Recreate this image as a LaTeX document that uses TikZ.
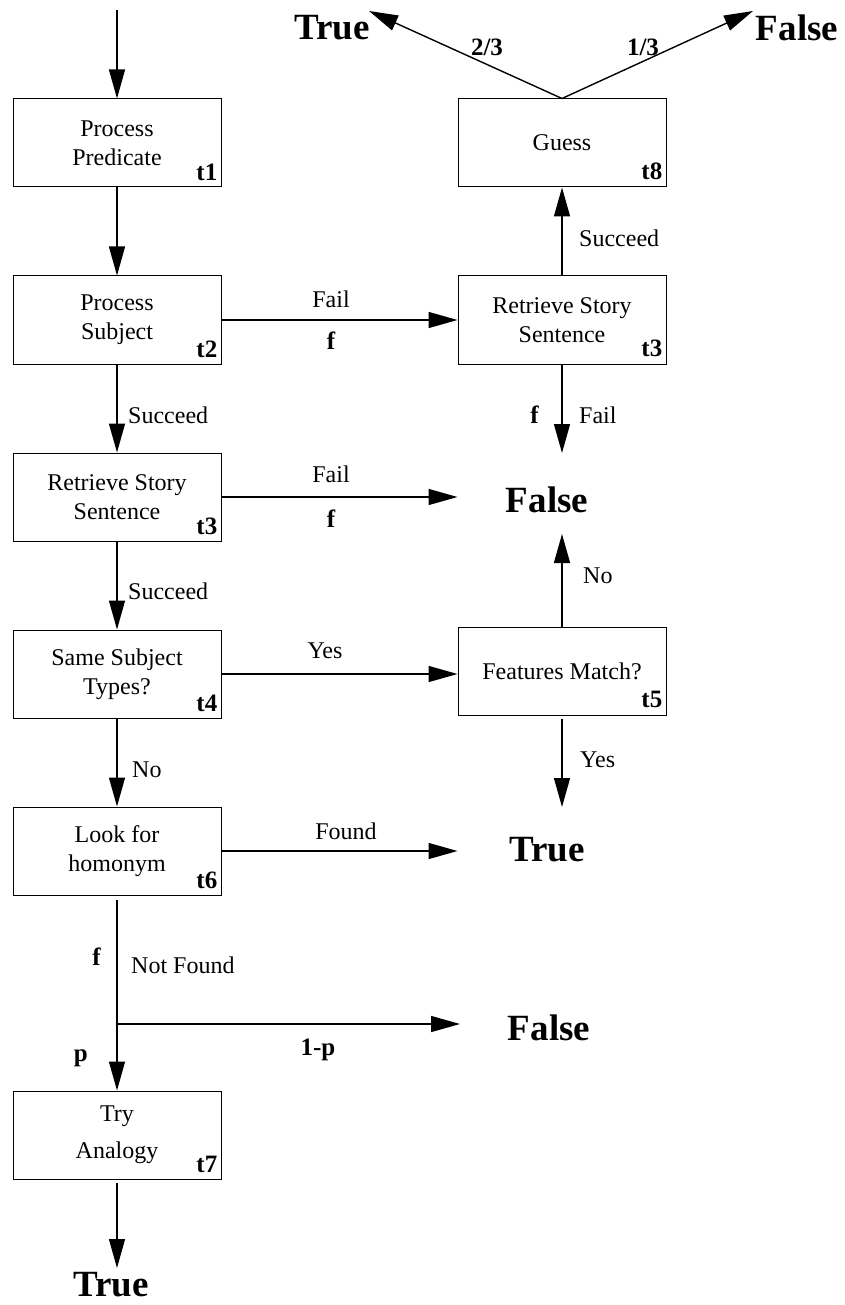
\documentclass[tikz,border=0pt]{standalone}
\usepackage{fontspec}
\setmainfont{Liberation Serif}
\usetikzlibrary{arrows.meta,calc}
\begin{document}
\begin{tikzpicture}[x=1pt,y=-1pt,
  box/.style={draw, line width=1pt, minimum width=208pt, minimum height=88pt, inner sep=0pt,
              font=\fontsize{24}{29}\selectfont, align=center},
  lbl/.style={font=\fontsize{24}{28}\selectfont, inner sep=0pt},
  blbl/.style={font=\fontsize{25}{28}\selectfont\bfseries, inner sep=0pt},
  tag/.style={font=\fontsize{25}{28}\selectfont\bfseries, inner sep=0pt, anchor=base east},
  big/.style={font=\fontsize{37}{40}\selectfont\bfseries, inner sep=0pt},
  arr/.style={line width=1.4pt, -{Triangle[length=29pt,width=16pt]}},
  ln/.style={line width=1.4pt}
]
\useasboundingbox (0,0) rectangle (844,1305);

% boxes
\node[box] (t1) at (117,143) {Process\\Predicate};
\node[box] (t2) at (117,320) {Process\\Subject};
\node[box] (t3L) at (117,497) {Retrieve Story\\Sentence};
\node[box] (t4) at (117,674) {Same Subject\\Types?};
\node[box] (t6) at (117,851) {Look for\\homonym};
\node[box] (t7) at (117,1135) {Try\\[8pt]Analogy};
\node[box] (t8) at (562,143) {Guess};
\node[box] (t3R) at (562,320) {Retrieve Story\\Sentence};
\node[box] (t5) at (562,671) {Features Match?};

% tags
\node[tag] at ([xshift=-4pt,yshift=7pt]t1.south east) {t1};
\node[tag] at ([xshift=-4pt,yshift=7pt]t2.south east) {t2};
\node[tag] at ([xshift=-4pt,yshift=7pt]t3L.south east) {t3};
\node[tag] at ([xshift=-4pt,yshift=7pt]t4.south east) {t4};
\node[tag] at ([xshift=-4pt,yshift=7pt]t6.south east) {t6};
\node[tag] at ([xshift=-4pt,yshift=7pt]t7.south east) {t7};
\node[tag] at ([xshift=-4pt,yshift=8pt]t8.south east) {t8};
\node[tag] at ([xshift=-4pt,yshift=8pt]t3R.south east) {t3};
\node[tag] at ([xshift=-4pt,yshift=8pt]t5.south east) {t5};

% terminal nodes
\node[big] (trueT) at (332,28) {True};
\node[big] (falseT) at (797,28) {False};
\node[big] (falseM) at (547,500) {False};
\node[big] (trueM) at (547,850) {True};
\node[big] (falseB) at (549,1028) {False};
\node[big] (trueB) at (111,1285) {True};

% coordinates for arrow ends
\coordinate (start) at (117,10);
\coordinate (tT) at (369,11);
\coordinate (fT) at (753,11);
\coordinate (fmTop) at (562,453);
\coordinate (fmBot) at (562,534);
\coordinate (tmTop) at (562,807);
\coordinate (split) at (117,1024);
\coordinate (fbTip) at (460,1024);
\coordinate (tbTip) at (117,1268);

% connectors
\draw[arr] (start) -- (t1.north);
\draw[arr] (t1.south) -- (t2.north);
\draw[arr] (t2.east) -- (t3R.west);
\draw[arr] (t3R.north) -- (t8.south);
\draw[arr] (t8.north) -- (tT);
\draw[arr] (t8.north) -- (fT);
\draw[arr] (t3R.south) -- (fmTop);
\draw[arr] (t2.south) -- (t3L.north);
\draw[arr] (t3L.east) -- (t3L.east -| t3R.west);
\draw[arr] (t5.north) -- (fmBot);
\draw[arr] (t3L.south) -- (t4.north);
\draw[arr] (t4.east) -- (t4.east -| t5.west);
\draw[arr] ([yshift=-3pt]t5.south) -- (tmTop);
\draw[arr] (t4.south) -- (t6.north);
\draw[arr] (t6.east) -- (t6.east -| t5.west);
\draw[arr] ([yshift=-4pt]t6.south) -- (t7.north);
\draw[arr] (split) -- (fbTip);
\draw[arr] ([yshift=-3pt]t7.south) -- (tbTip);

% edge labels
\node[blbl] (l23) at (487,47) {2/3};
\node[blbl] (l13) at (643,47) {1/3};
\node[lbl, anchor=base west] (succR) at (579,247) {Succeed};
\node[lbl, anchor=base] (fail1) at (331,307) {Fail};
\node[blbl, anchor=base] (f1) at (331,349) {f};
\node[blbl, anchor=base east] (fR) at (539,423) {f};
\node[lbl, anchor=base west] (failR) at (579,423) {Fail};
\node[lbl, anchor=base west] (succL1) at (128,423) {Succeed};
\node[lbl, anchor=base] (fail2) at (331,482) {Fail};
\node[blbl, anchor=base] (f2) at (331,527) {f};
\node[lbl, anchor=base west] (noR) at (583,583) {No};
\node[lbl, anchor=base west] (succL2) at (128,599) {Succeed};
\node[lbl, anchor=base] (yes1) at (325,658) {Yes};
\node[lbl, anchor=base west] (yesR) at (580,767) {Yes};
\node[lbl, anchor=base west] (noL) at (132,777) {No};
\node[lbl, anchor=base] (found) at (346,839) {Found};
\node[blbl, anchor=base east] (fL) at (101,965) {f};
\node[lbl, anchor=base west] (notfound) at (131,973) {Not Found};
\node[blbl, anchor=base east] (pL) at (88,1061) {p};
\node[blbl, anchor=base] (omp) at (318,1055) {1-p};
\end{tikzpicture}
\end{document}
